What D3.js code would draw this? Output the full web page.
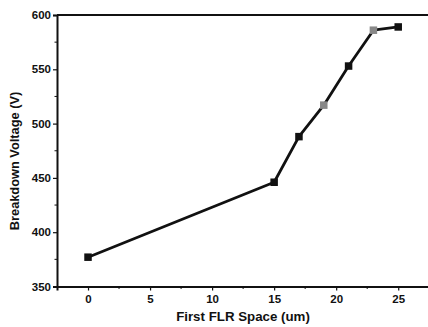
<!DOCTYPE html>
<html><head><meta charset="utf-8">
<script src="https://cdn.jsdelivr.net/npm/d3@7"></script>
<style>body{margin:0;background:#fff}svg{display:block}text{font-family:"Liberation Sans",Arial,sans-serif;font-weight:bold;fill:#111}</style>
</head><body><svg width="428" height="327"></svg>
<script>
const xVals = [0, 15, 17, 19, 21, 23, 25];
const yVals = [377, 446, 488, 517, 553, 586, 589];
const greyPts = [false, false, false, true, false, true, false];
const xTicks = [0, 5, 10, 15, 20, 25];
const yTicks = [350, 400, 450, 500, 550, 600];
const xLabel = "First FLR Space (um)";
const yLabel = "Breakdown Voltage (V)";

const svg = d3.select("svg");
const L = 57, R = 428, T = 15, B = 286.5;
const x = d3.scaleLinear().domain([-2.5, 27.5]).range([L, L + (R - L) * 30 / 29.9]);
const y = d3.scaleLinear().domain([350, 600]).range([B, T]);

svg.append("line").attr("x1", L).attr("x2", R).attr("y1", T).attr("y2", T).attr("stroke", "#111").attr("stroke-width", 2);

const xa = svg.append("g").attr("transform", `translate(0,${B})`)
  .call(d3.axisBottom(x).tickValues(xTicks).tickSize(4).tickFormat(d3.format("d")));
const ya = svg.append("g").attr("transform", `translate(${L},0)`)
  .call(d3.axisLeft(y).tickValues(yTicks).tickSize(4).tickFormat(d3.format("d")));
[xa, ya].forEach(a => {
  a.select(".domain").attr("stroke", "#111").attr("stroke-width", 2);
  a.selectAll(".tick line").attr("stroke", "#111").attr("stroke-width", 1.2);
  a.selectAll(".tick text").style("font-size", "11.5px").style("font-family", '"Liberation Sans",Arial,sans-serif').style("font-weight", "bold");
});
xa.selectAll(".tick text").attr("dy", "0.85em");
ya.selectAll(".tick text").attr("x", -6);
const xMinor = [2.5, 7.5, 12.5, 17.5, 22.5];
xMinor.forEach(v => svg.append("line").attr("x1", x(v)).attr("x2", x(v)).attr("y1", B).attr("y2", B + 2.5).attr("stroke", "#111"));
const yMinor = [375, 425, 475, 525, 575];
yMinor.forEach(v => svg.append("line").attr("x1", L).attr("x2", L - 2.5).attr("y1", y(v)).attr("y2", y(v)).attr("stroke", "#111"));

const pts = xVals.map((v, i) => [v, yVals[i]]);
svg.append("path").datum(pts)
  .attr("d", d3.line().x(d => x(d[0])).y(d => y(d[1])))
  .attr("fill", "none").attr("stroke", "#111").attr("stroke-width", 2.8).attr("stroke-linejoin", "round");

const s = 7.5;
svg.selectAll("rect.pt").data(pts).enter().append("rect")
  .attr("x", d => x(d[0]) - s / 2).attr("y", d => y(d[1]) - s / 2)
  .attr("width", s).attr("height", s)
  .attr("fill", (d, i) => greyPts[i] ? "#888" : "#111");

svg.append("text").attr("x", 243).attr("y", 321).attr("text-anchor", "middle").style("font-size", "13.3px").text(xLabel);
svg.append("text").attr("transform", `translate(19,161) rotate(-90)`).attr("text-anchor", "middle").style("font-size", "12.8px").text(yLabel);
</script></body></html>
